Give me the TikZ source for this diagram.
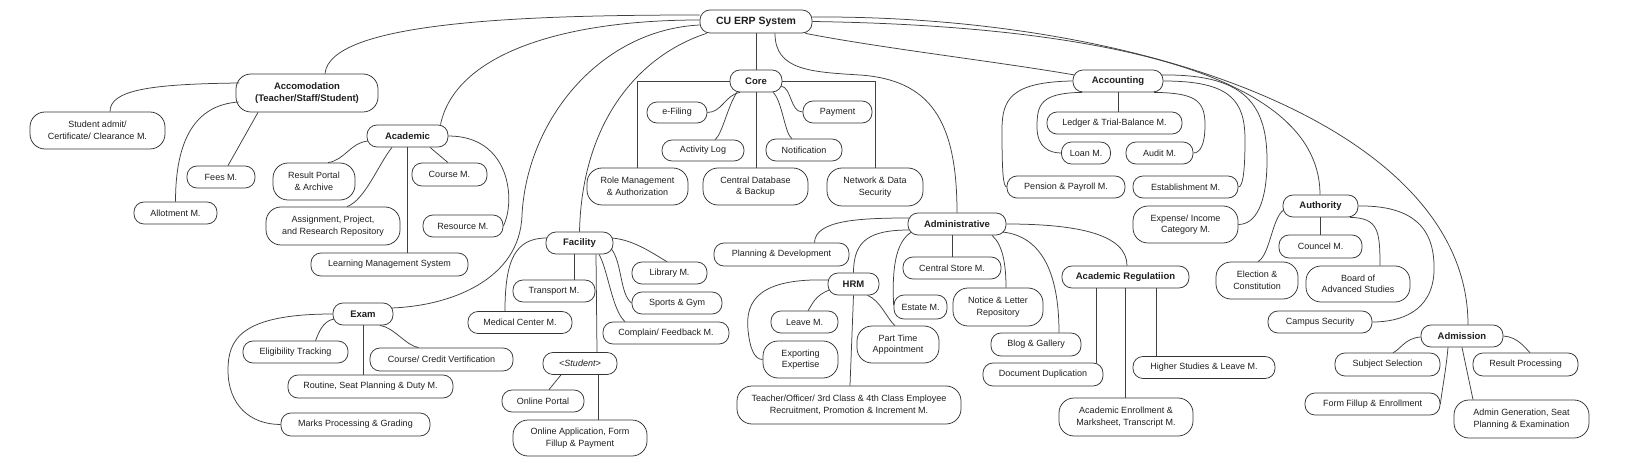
\documentclass[tikz,border=0pt]{standalone}
\usepackage{fontspec}
\setmainfont{Liberation Sans}
\begin{document}
\begin{tikzpicture}[x=1pt,y=-1pt,
  nb/.style={draw=black!80, line width=0.75pt, rounded corners=10pt, inner sep=1pt, align=center, font=\fontsize{9}{11.5}\selectfont, text=black!88},
  one/.style={nb, minimum height=22pt},
  two/.style={nb, minimum height=37pt, rounded corners=15pt},
  cat/.style={one, font=\fontsize{9.5}{12}\selectfont\bfseries},
  rootbox/.style={one, font=\fontsize{10.5}{12}\selectfont\bfseries, minimum height=23pt},
  ln/.style={draw=black!75, line width=0.75pt}]
\fill[white] (0,0) rectangle (1633,473);
\useasboundingbox (0,0) rectangle (1633,473);

% ---------------- nodes ----------------
\node[rootbox, minimum width=112pt] (root) at (756,21.5) {CU ERP System};

\node[two, font=\fontsize{9.5}{12}\selectfont\bfseries, minimum width=142pt, minimum height=38pt] (accom) at (307,93) {Accomodation\\(Teacher/Staff/Student)};
\node[two, minimum width=135pt] (stud) at (97.5,130.5) {Student admit/\\Certificate/ Clearance M.};
\node[one, minimum width=68pt] (fees) at (221,177) {Fees M.};
\node[one, minimum width=83pt] (allot) at (175.5,213) {Allotment M.};

\node[cat, minimum width=81pt] (acad) at (407.5,136) {Academic};
\node[two, minimum width=82pt] (rp) at (314,181.5) {Result Portal\\\& Archive};
\node[two, minimum width=134pt, minimum height=38pt] (asg) at (333,226) {Assignment, Project,\\and Research Repository};
\node[one, minimum width=157pt, minimum height=23pt] (lms) at (389.5,264.5) {Learning Management System};
\node[one, minimum width=75pt, minimum height=23pt] (course) at (449.5,174.5) {Course M.};
\node[one, minimum width=80pt] (res) at (463,226) {Resource M.};

\node[cat, minimum width=60pt] (exam) at (363,314) {Exam};
\node[one, minimum width=105pt] (elig) at (295.5,352) {Eligibility Tracking};
\node[one, minimum width=143pt, minimum height=23pt] (credit) at (441.5,359.5) {Course/ Credit Vertification};
\node[one, minimum width=165pt, minimum height=23pt] (rout) at (370.5,386.5) {Routine, Seat Planning \& Duty M.};
\node[one, minimum width=149pt, minimum height=23pt] (marks) at (355.5,424.5) {Marks Processing \& Grading};

\node[cat, minimum width=67pt] (fac) at (579.5,243) {Facility};
\node[one, minimum width=82pt] (trans) at (554,291) {Transport M.};
\node[one, minimum width=104pt] (med) at (520,322.5) {Medical Center M.};
\node[one, minimum width=75pt] (lib) at (669.5,273) {Library M.};
\node[one, minimum width=90pt] (gym) at (677,303) {Sports \& Gym};
\node[one, minimum width=126pt] (comp) at (666,333) {Complain/ Feedback M.};
\node[one, minimum width=74pt] (stu) at (580,363.5) {\itshape <Student>};
\node[one, minimum width=82pt] (portal) at (543,401) {Online Portal};
\node[two, minimum width=134pt, minimum height=36pt] (app) at (580,438) {Online Application, Form\\Fillup \& Payment};

\node[cat, minimum width=52pt] (core) at (756,81) {Core};
\node[one, minimum width=60pt, minimum height=21pt] (efil) at (677,112.5) {e-Filing};
\node[one, minimum width=82pt, minimum height=21pt] (act) at (703,150.5) {Activity Log};
\node[one, minimum width=76pt] (notif) at (804,150) {Notification};
\node[one, minimum width=69pt] (pay) at (837.5,112) {Payment};
\node[two, minimum width=101pt] (role) at (637.5,186.5) {Role Management\\\& Authorization};
\node[two, minimum width=105pt] (cdb) at (755.5,186.5) {Central Database\\\& Backup};
\node[two, minimum width=96pt, minimum height=38pt] (net) at (875,187) {Network \& Data\\Security};

\node[cat, minimum width=98pt] (adm) at (957,224) {Administrative};
\node[one, minimum width=135pt, minimum height=23pt] (plan) at (781.5,254.5) {Planning \& Development};
\node[cat, minimum width=51pt] (hrm) at (853.5,284) {HRM};
\node[one, minimum width=98pt] (cs) at (952,268) {Central Store M.};
\node[one, minimum width=53pt, minimum height=24pt] (est) at (920.5,307) {Estate M.};
\node[two, minimum width=90pt, minimum height=38pt] (notice) at (998,307) {Notice \& Letter\\Repository};
\node[one, minimum width=90pt, minimum height=23pt] (blog) at (1036,344.5) {Blog \& Gallery};
\node[one, minimum width=120pt, minimum height=23pt] (dd) at (1043,374.5) {Document Duplication};
\node[one, minimum width=67pt] (leave) at (804.5,322) {Leave M.};
\node[two, minimum width=75pt] (expt) at (800.5,359.5) {Exporting\\Expertise};
\node[two, minimum width=82pt] (ptime) at (898,344.5) {Part Time\\Appointment};
\node[two, minimum width=224pt, minimum height=38pt] (tea) at (849,405) {Teacher/Officer/ 3rd Class \& 4th Class Employee\\Recruitment, Promotion \& Increment M.};
\node[cat, minimum width=127pt] (areg) at (1125.5,277) {Academic Regulatiion};
\node[one, minimum width=142pt] (hs) at (1204,367.5) {Higher Studies \& Leave M.};
\node[two, minimum width=134pt, minimum height=38pt] (enr) at (1126,417) {Academic Enrollment \&\\Marksheet, Transcript M.};

\node[cat, minimum width=90pt] (acc) at (1118,81) {Accounting};
\node[one, minimum width=135pt] (led) at (1114.5,123) {Ledger \& Trial-Balance M.};
\node[one, minimum width=49pt] (loan) at (1086,153) {Loan M.};
\node[one, minimum width=67pt] (aud) at (1159.5,153) {Audit M.};
\node[one, minimum width=118pt] (pen) at (1066,187) {Pension \& Payroll M.};
\node[one, minimum width=105pt] (estb) at (1185.5,187) {Establishment M.};
\node[two, minimum width=105pt] (expn) at (1185.5,224.5) {Expense/ Income\\Category M.};

\node[cat, minimum width=75pt] (auth) at (1320.5,206) {Authority};
\node[one, minimum width=83pt, minimum height=23pt] (coun) at (1320.5,246.5) {Councel M.};
\node[two, minimum width=82pt] (elec) at (1257,280.5) {Election \&\\Constitution};
\node[two, minimum width=104pt, minimum height=36pt] (board) at (1358,284) {Board of\\Advanced Studies};
\node[one, minimum width=104pt] (camp) at (1320,322) {Campus Security};

\node[cat, minimum width=82pt] (admi) at (1462,336) {Admission};
\node[one, minimum width=105pt, minimum height=23pt] (subj) at (1387.5,364.5) {Subject Selection};
\node[one, minimum width=105pt, minimum height=23pt] (rproc) at (1525.5,364.5) {Result Processing};
\node[one, minimum width=135pt] (form) at (1372.5,404) {Form Fillup \& Enrollment};
\node[two, minimum width=135pt, minimum height=38pt] (gen) at (1521.5,419) {Admin Generation, Seat\\Planning \& Examination};

% ---------------- root connectors ----------------
\draw[ln] ([yshift=6.5pt]root.west) .. controls (520,15) and (330,22) .. ([xshift=18pt]accom.north);
\draw[ln] ([yshift=1.5pt]root.west) .. controls (560,20) and (455,55) .. ([xshift=33pt]acad.north);
\draw[ln] ([yshift=-3.5pt]root.west) .. controls (600,30) and (527,120) .. (522,215) .. controls (520,280) and (450,306) .. ([xshift=-2pt,yshift=6pt]exam.east);
\draw[ln] ([xshift=7pt]root.south west) .. controls (640,55) and (582,120) .. (fac.north);
\draw[ln] ([yshift=4.5pt]root.east) .. controls (1150,15) and (1468,130) .. ([xshift=6pt]admi.north);
\draw[ln] (root.east) .. controls (1050,25) and (1320,60) .. ([xshift=-0.5pt]auth.north);
\draw[ln] ([xshift=-7pt]root.south east) .. controls (880,48) and (1000,62) .. ([xshift=2pt,yshift=6pt]acc.west);
\draw[ln] ([xshift=19pt]root.south) .. controls (775,70) and (810,72) .. (860,75) .. controls (930,80) and (957,120) .. (adm.north);
\draw[ln] (root.south) -- (core.north);

% ---------------- accomodation ----------------
\draw[ln] ([xshift=3.8pt,yshift=10pt]accom.west) .. controls (150,84) and (110,90) .. ([xshift=12.5pt]stud.north);
\draw[ln] ([xshift=3pt,yshift=-9pt]accom.west) .. controls (195,105) and (175.5,140) .. (allot.north);
\draw[ln] ([xshift=-49pt]accom.south) -- ([xshift=7pt]fees.north);

% ---------------- academic ----------------
\draw[ln] ([xshift=1.3pt,yshift=-5pt]acad.west) .. controls (350,143) and (345,160) .. ([xshift=14pt]rp.north);
\draw[ln] ([xshift=-15.5pt]acad.south) .. controls (378,165) and (365,200) .. ([xshift=14pt]asg.north);
\draw[ln] (acad.south) -- (acad.south |- lms.north);
\draw[ln] ([xshift=22.5pt]acad.south) -- ([xshift=-1.5pt]course.north);
\draw[ln] (acad.east) .. controls (510,136) and (516,200) .. (res.east);

% ---------------- exam ----------------
\draw[ln] (exam.west) .. controls (240,314) and (228,340) .. (228,370) .. controls (228,405) and (250,424.5) .. (marks.west);
\draw[ln] ([xshift=1.3pt,yshift=-5pt]exam.west) .. controls (322,321) and (318,335) .. ([xshift=20pt]elig.north);
\draw[ln] (exam.south) -- (exam.south |- rout.north);
\draw[ln] ([xshift=17pt]exam.south) .. controls (395,328) and (405,345) .. ([xshift=-23pt]credit.north);

% ---------------- facility ----------------
\draw[ln] ([xshift=1.3pt,yshift=5pt]fac.west) .. controls (515,238) and (505,260) .. ([xshift=-15pt]med.north);
\draw[ln] ([xshift=-5.5pt]fac.south) -- ([xshift=20pt]trans.north);
\draw[ln] ([xshift=16.5pt]fac.south) -- ([xshift=17pt]stu.north);
\draw[ln] ([xshift=19.5pt]fac.south) .. controls (608,270) and (612,310) .. ([xshift=-41pt]comp.north);
\draw[ln] ([xshift=-2pt,yshift=-6pt]fac.east) .. controls (622,262) and (620,295) .. (gym.west);
\draw[ln] ([xshift=-1.3pt,yshift=5pt]fac.east) .. controls (635,240) and (655,255) .. ([xshift=-2.5pt]lib.north);
\draw[ln] ([xshift=-19pt]stu.south) -- ([xshift=6pt]portal.north);
\draw[ln] ([xshift=18pt]stu.south) -- ([xshift=18pt]app.north);

% ---------------- core ----------------
\draw[ln] (core.west) -| (role.north);
\draw[ln] (core.east) -| (net.north);
\draw[ln] (core.south) -- (core.south |- cdb.north);
\draw[ln] ([xshift=-16pt]core.south) .. controls (725,95) and (722,112.5) .. (efil.east);
\draw[ln] ([xshift=-19pt]core.south) .. controls (728,105) and (722,135) .. ([xshift=12pt]act.north);
\draw[ln] ([xshift=17pt]core.south) .. controls (782,100) and (785,135) .. ([xshift=-12pt]notif.north);
\draw[ln] ([xshift=-1.3pt,yshift=-5pt]core.east) .. controls (792,88) and (790,112) .. (pay.west);

% ---------------- administrative ----------------
\draw[ln] ([xshift=2pt,yshift=6pt]adm.west) .. controls (860,218) and (815,220) .. ([xshift=33pt]plan.north);
\draw[ln] ([xshift=2pt,yshift=-6pt]adm.west) .. controls (870,230) and (853.5,240) .. (hrm.north);
\draw[ln] ([xshift=4pt,yshift=-8pt]adm.west) .. controls (895,242) and (892,270) .. ([yshift=2pt]est.west);
\draw[ln] ([xshift=-5pt]adm.south) -- (cs.north);
\draw[ln] ([xshift=35pt]adm.south) .. controls (1003,245) and (1006,265) .. ([xshift=8pt]notice.north);
\draw[ln] ([xshift=-4pt,yshift=-8pt]adm.east) .. controls (1040,236) and (1059,270) .. ([xshift=23pt]blog.north);
\draw[ln] (adm.east) .. controls (1080,224) and (1127,235) .. ([xshift=1.5pt]areg.north);

% ---------------- HRM ----------------
\draw[ln] ([xshift=1pt,yshift=4pt]hrm.west) .. controls (760,278) and (745,300) .. (748,330) .. controls (750,350) and (755,359.5) .. (expt.west);
\draw[ln] ([xshift=2pt,yshift=-6pt]hrm.west) .. controls (815,295) and (812,305) .. ([xshift=3.5pt]leave.north);
\draw[ln] (hrm.south) -- ([xshift=1pt]tea.north);
\draw[ln] ([xshift=14pt]hrm.south) .. controls (880,300) and (888,320) .. ([xshift=-3pt]ptime.north);

% ---------------- academic regulation ----------------
\draw[ln] ([xshift=-29.5pt]areg.south) -- ([xshift=53pt]dd.north);
\draw[ln] (areg.south) -- (areg.south |- enr.north);
\draw[ln] ([xshift=30.5pt]areg.south) -- ([xshift=-48pt]hs.north);

% ---------------- accounting ----------------
\draw[ln] (acc.west) .. controls (1010,82) and (1002,100) .. (1002,130) .. controls (1002,170) and (1003,187) .. (pen.west);
\draw[ln] (acc.south) -- (acc.south |- led.north);
\draw[ln] ([xshift=-36pt]acc.south) .. controls (1040,93) and (1037,105) .. (1037,127) .. controls (1037,148) and (1050,153) .. (loan.west);
\draw[ln] ([xshift=36pt]acc.south) .. controls (1195,93) and (1205,100) .. (1205,125) .. controls (1205,145) and (1200,153) .. (aud.east);
\draw[ln] (acc.east) .. controls (1230,81) and (1245,100) .. (1245,140) .. controls (1245,170) and (1243,187) .. (estb.east);
\draw[ln] ([xshift=-2pt,yshift=6pt]acc.east) .. controls (1240,74) and (1267,100) .. (1267,160) .. controls (1267,205) and (1255,224.5) .. (expn.east);

% ---------------- authority ----------------
\draw[ln] (auth.south) -- (auth.south |- coun.north);
\draw[ln] ([xshift=1pt,yshift=-4pt]auth.west) .. controls (1272,218) and (1270,255) .. ([xshift=1pt]elec.north);
\draw[ln] ([xshift=29.5pt]auth.south) .. controls (1378,218) and (1380,230) .. ([xshift=22pt]board.north);
\draw[ln] (auth.east) .. controls (1425,205) and (1435,240) .. (1434,272) .. controls (1432,312) and (1400,322) .. (camp.east);

% ---------------- admission ----------------
\draw[ln] ([yshift=-1pt]admi.west) .. controls (1405,338) and (1400,350) .. ([xshift=5.5pt]subj.north);
\draw[ln] ([xshift=-14pt]admi.south) .. controls (1446,370) and (1442,390) .. (form.east);
\draw[ln] (admi.south) -- ([xshift=-48.5pt]gen.north);
\draw[ln] (admi.east) .. controls (1518,337) and (1525,348) .. ([xshift=4.5pt]rproc.north);
\end{tikzpicture}
\end{document}
